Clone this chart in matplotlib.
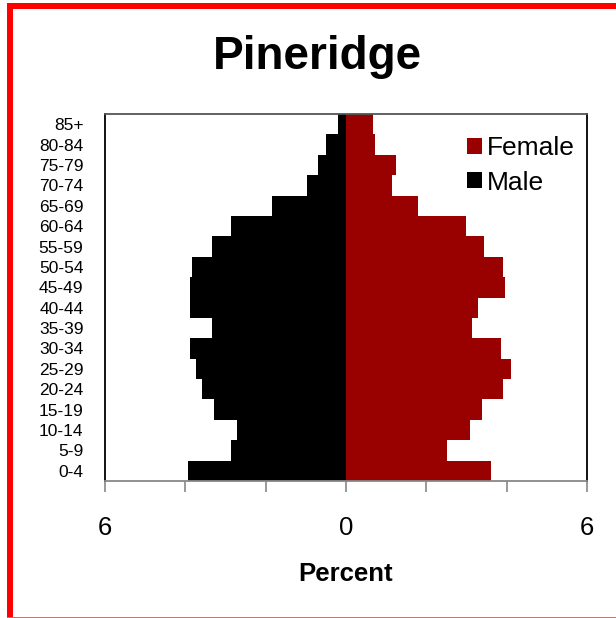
import matplotlib
matplotlib.use("Agg")
import matplotlib.pyplot as plt
from matplotlib.patches import Rectangle, Patch

plt.rcParams['font.family'] = ['Liberation Sans', 'DejaVu Sans']

age_groups = ["0-4", "5-9", "10-14", "15-19", "20-24", "25-29", "30-34", "35-39",
              "40-44", "45-49", "50-54", "55-59", "60-64", "65-69", "70-74",
              "75-79", "80-84", "85+"]
male = [3.94, 2.87, 2.72, 3.29, 3.58, 3.74, 3.89, 3.33, 3.89, 3.89, 3.83, 3.33,
        2.87, 1.83, 0.97, 0.70, 0.51, 0.19]
female = [3.60, 2.52, 3.08, 3.39, 3.91, 4.11, 3.85, 3.14, 3.29, 3.95, 3.91, 3.44,
          2.99, 1.80, 1.14, 1.24, 0.72, 0.68]
x_ticks = [-6, -4, -2, 0, 2, 4, 6]
x_ticklabels = ["6", "", "", "0", "", "", "6"]
title = "Pineridge"
xlabel = "Percent"

W, H = 616, 618
fig = plt.figure(figsize=(W / 100, H / 100), dpi=100)
fig.patch.set_facecolor("white")

ax = fig.add_axes([105 / W, 1 - 481 / H, (587 - 105) / W, (481 - 114) / H])
ypos = list(range(len(age_groups)))
ax.barh(ypos, [-m for m in male], height=1.0, color="black", linewidth=0)
ax.barh(ypos, female, height=1.0, color="#990000", linewidth=0)

ax.set_xlim(-6, 6)
ax.set_ylim(-0.5, len(age_groups) - 0.5)
ax.set_xticks(x_ticks)
ax.set_xticklabels(x_ticklabels, fontsize=18.5)
ax.set_yticks(ypos)
ax.set_yticklabels(age_groups, fontsize=12.5)
ax.tick_params(axis="y", length=0, pad=15.5)
ax.tick_params(axis="x", length=8, width=1.2, color="#888888", pad=17, direction="out")

for side, col in [("left", "black"), ("right", "black"), ("top", "#555555"), ("bottom", "#888888")]:
    ax.spines[side].set_color(col)
    ax.spines[side].set_linewidth(1.3)

ax.set_xlabel(xlabel, fontsize=18.5, fontweight="bold", labelpad=16)

handles = [Patch(facecolor="#990000", edgecolor="none", label="Female"),
           Patch(facecolor="black", edgecolor="none", label="Male")]
fig.legend(handles=handles, loc="upper left", bbox_to_anchor=(467 / W, 1 - 136 / H),
           frameon=False, fontsize=19, handlelength=0.55, handleheight=0.55,
           handletextpad=0.2, labelspacing=0.4, borderpad=0, borderaxespad=0)

fig.text(317 / W, 1 - 69 / H, title, fontsize=33, fontweight="bold",
         ha="center", va="baseline")

# red frame
fig.add_artist(Rectangle((7 / W, 1 - 9 / H), (W - 7) / W, 6 / H, transform=fig.transFigure,
                         facecolor="#ff0000", edgecolor="none"))
fig.add_artist(Rectangle((7 / W, 0), 6 / W, (H - 3) / H, transform=fig.transFigure,
                         facecolor="#ff0000", edgecolor="none"))
fig.add_artist(Rectangle((7 / W, 0), (W - 7) / W, 1.5 / H, transform=fig.transFigure,
                         facecolor="#f06060", edgecolor="none"))

fig.savefig("out.png", dpi=100, facecolor="white")
